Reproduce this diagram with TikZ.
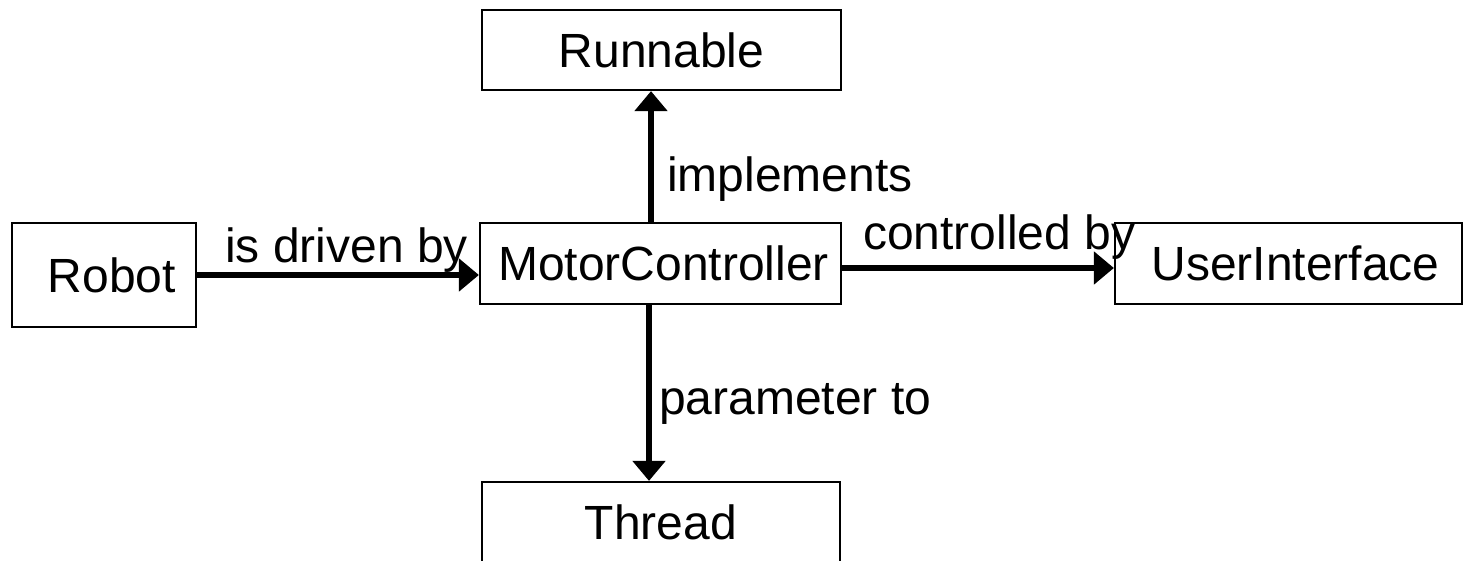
\documentclass[tikz,border=0pt]{standalone}
\usepackage{fontspec}
\setmainfont{Liberation Sans}
\usetikzlibrary{arrows.meta}
\begin{document}
\begin{tikzpicture}[x=1pt,y=-1pt,
  box/.style={draw=black,line width=2.2pt,inner sep=0pt,font=\fontsize{48}{52}\selectfont},
  lbl/.style={inner sep=0pt,anchor=base west,font=\fontsize{48}{52}\selectfont},
  conn/.style={line width=5.5pt,-{Triangle[length=20pt,width=32pt]}}]
\clip (0,0) rectangle (1472,561);
\useasboundingbox (0,0) rectangle (1472,561);
\fill[white] (0,0) rectangle (1472,561);
\node[box,minimum width=359pt,minimum height=80pt] (runnable) at (661.5,50) {\raisebox{-1pt}{Runnable}};
\node[box,minimum width=184pt,minimum height=104pt] (robot) at (104,275) {\hspace{16pt}\raisebox{-4pt}{Robot}};
\node[box,minimum width=361pt,minimum height=81pt] (mc) at (660.5,263.5) {\hspace{6pt}MotorController};
\node[box,minimum width=347pt,minimum height=81pt] (ui) at (1288.5,263.5) {\hspace{14pt}\raisebox{-3pt}{UserInterface}};
\node[box,minimum width=358pt,minimum height=81pt] (thread) at (661,522.5) {Thread};
\draw[conn] (robot.east) -- (robot.east -| mc.west);
\draw[conn] ([yshift=-4.5pt]mc.east) -- ([yshift=-4.5pt]ui.west);
\draw[conn] ([xshift=-9.5pt]mc.north) -- ([xshift=-9.5pt]mc.north |- runnable.south);
\draw[conn] ([xshift=-11.5pt]mc.south) -- ([xshift=-11.5pt]mc.south |- thread.north);
\node[lbl] (l1) at (225,263) {is driven by};
\node[lbl] (l2) at (863,250) {controlled by};
\node[lbl] (l3) at (667,192) {implements};
\node[lbl] (l4) at (659,414) {parameter to};
\end{tikzpicture}
\end{document}
